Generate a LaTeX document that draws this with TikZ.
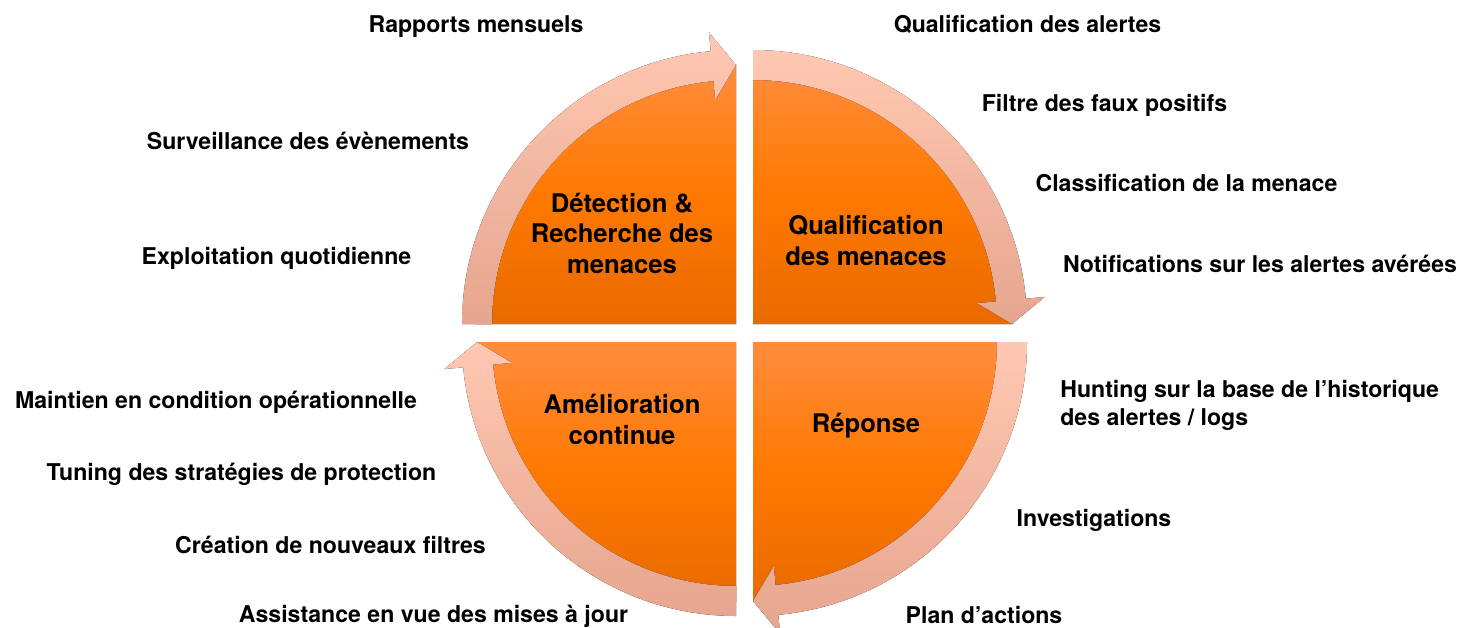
\documentclass[tikz,border=0pt]{standalone}
\usepackage{fontspec}
\setmainfont{TeX Gyre Heros}
\usepackage{xcolor}
\usepackage{tikz}
\definecolor{wedgetop}{RGB}{255, 140, 62}
\definecolor{wedgemid}{RGB}{255, 121, 0}
\definecolor{wedgebot}{RGB}{232, 106, 0}
\definecolor{ringtop}{RGB}{255, 200, 178}
\definecolor{ringbot}{RGB}{230, 165, 143}

\begin{document}
\begin{tikzpicture}[
  x=0.02cm, y=0.02cm,
  wedge/.style={top color=wedgetop, bottom color=wedgebot, middle color=wedgemid},
  ring/.style={top color=ringtop, bottom color=ringbot},
  phase/.style={
    font=\fontsize{14.6}{17.3}\selectfont\bfseries,
    align=center, anchor=base, inner sep=0pt
  },
  task/.style={
    font=\fontsize{13.15}{15.9}\selectfont\bfseries,
    anchor=base, inner sep=0pt
  },
]
\useasboundingbox (0,0) rectangle (1463,627);

% quadrant corners
\def\tlx{736}
\def\tly{303}
\def\trx{753}
\def\try{303}
\def\brx{753}
\def\bry{285}
\def\blx{736}
\def\bly{285}

% quarter discs
\fill[wedge, shift={(\tlx,\tly)}] (0,0) -- (180:260) arc[start angle=180, end angle=90, radius=260] -- cycle;
\fill[wedge, shift={(\trx,\try)}] (0,0) -- (90:260) arc[start angle=90, end angle=0, radius=260] -- cycle;
\fill[wedge, shift={(\brx,\bry)}] (0,0) -- (0:260) arc[start angle=0, end angle=-90, radius=260] -- cycle;
\fill[wedge, shift={(\blx,\bly)}] (0,0) -- (-90:260) arc[start angle=-90, end angle=-180, radius=260] -- cycle;

% curved arrows round the cycle
\fill[ring, shift={(\tlx,\tly)}] (180:274) arc[start angle=180, end angle=95.3, radius=274]
  -- (95.3:293) -- (90:259) -- (95.3:225) -- (95.3:244)
  arc[start angle=95.3, end angle=180, radius=244] -- cycle;
\fill[ring, shift={(\trx,\try)}] (90:274) arc[start angle=90, end angle=5.3, radius=274]
  -- (5.3:293) -- (0:259) -- (5.3:225) -- (5.3:244)
  arc[start angle=5.3, end angle=90, radius=244] -- cycle;
\fill[ring, shift={(\brx,\bry)}] (0:274) arc[start angle=0, end angle=-84.7, radius=274]
  -- (-84.7:293) -- (-90:259) -- (-84.7:225) -- (-84.7:244)
  arc[start angle=-84.7, end angle=0, radius=244] -- cycle;
\fill[ring, shift={(\blx,\bly)}] (-90:274) arc[start angle=-90, end angle=-174.7, radius=274]
  -- (-174.7:293) -- (-180:259) -- (-174.7:225) -- (-174.7:244)
  arc[start angle=-174.7, end angle=-90, radius=244] -- cycle;

% phase names (base = last line)
\node[phase] (detect)  at (622, 354) {Détection \&\\Recherche des\\menaces};
\node[phase] (qualif)  at (866, 362) {Qualification\\des menaces};
\node[phase] (improve) at (622, 183) {Amélioration\\continue};
\node[phase] (answer)  at (866, 195) {Réponse};

% tasks, top left
\node[task] (reports)  at (476, 595) {Rapports mensuels};
\node[task] (watch)    at (308, 478) {Surveillance des évènements};
\node[task] (daily)    at (276.5, 363) {Exploitation quotidienne};

% tasks, top right
\node[task] (alerts)   at (1027.5, 595) {Qualification des alertes};
\node[task] (filter)   at (1104.5, 516) {Filtre des faux positifs};
\node[task] (classify) at (1186.5, 436) {Classification de la menace};
\node[task] (notify)   at (1260, 355) {Notifications sur les alertes avérées};

% tasks, bottom right
\node[task, anchor=base west, align=left] (hunting) at (1060, 202) {Hunting sur la base de l’historique\\des alertes / logs};
\node[task] (investig) at (1094, 101) {Investigations};
\node[task] (plan)     at (984, 4) {Plan d’actions};

% tasks, bottom left
\node[task] (upkeep)   at (216, 219) {Maintien en condition opérationnelle};
\node[task] (tuning)   at (241.5, 147) {Tuning des stratégies de protection};
\node[task] (filters)  at (330.5, 74) {Création de nouveaux filtres};
\node[task] (updates)  at (433.5, 5) {Assistance en vue des mises à jour};

\end{tikzpicture}
\end{document}
